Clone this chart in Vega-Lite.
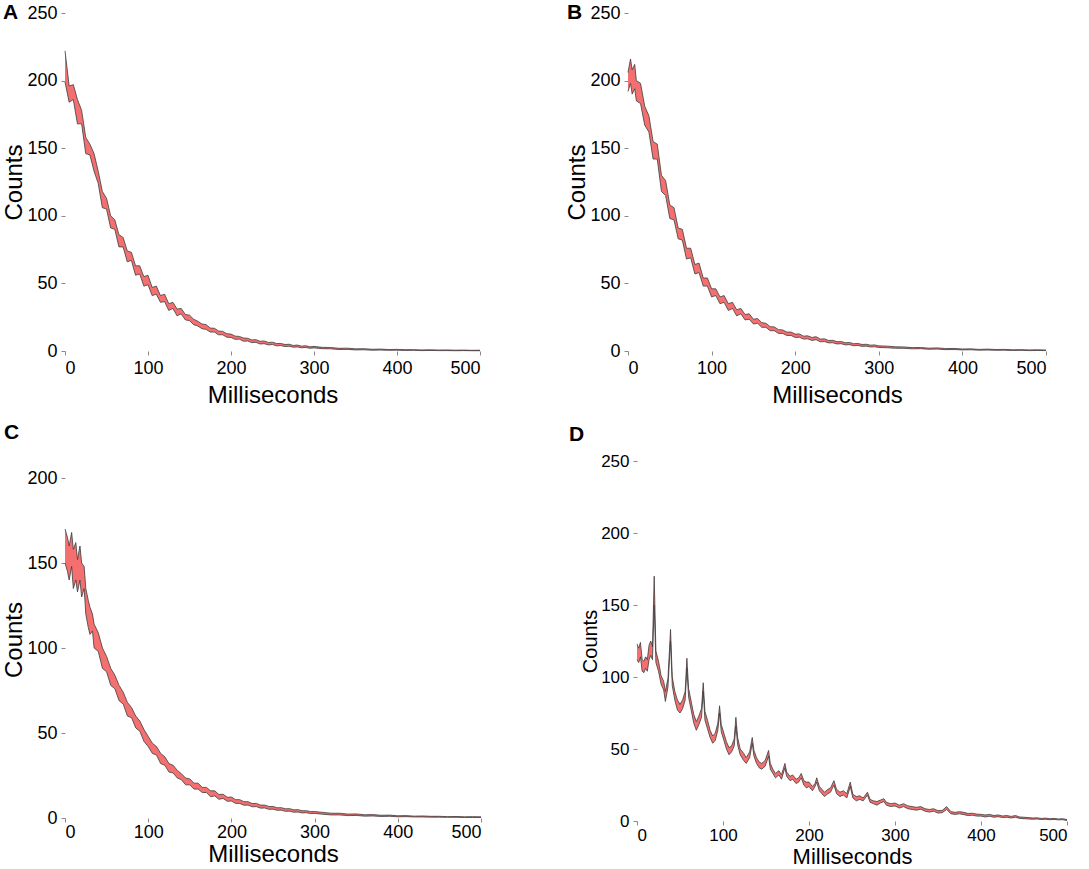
{
  "$schema": "https://vega.github.io/schema/vega-lite/v6.json",
  "padding": {"left": 2, "top": 2, "right": 2, "bottom": 0},
  "config": {
    "view": {"stroke": null},
    "font": "Liberation Sans",
    "axis": {
      "grid": false,
      "domain": false,
      "tickColor": "#8a8a8a",
      "tickSize": 4,
      "labelPadding": 4,
      "labelFontSize": 18,
      "labelColor": "#000",
      "titleFontSize": 24,
      "titleFontWeight": "normal",
      "titleColor": "#000"
    },
    "axisX": {"titlePadding": 6},
    "axisY": {"titlePadding": 0},
    "title": {"fontSize": 21, "fontWeight": "bold", "anchor": "start", "frame": "group", "baseline": "alphabetic", "color": "#000"},
    "area": {"color": "#f47070"},
    "line": {"stroke": "#3c3c3c", "strokeWidth": 0.8}
  },
  "datasets": {
    "A": [
      {"t":0,"lo":199,"hi":222},{"t":5,"lo":184,"hi":196},{"t":10,"lo":186,"hi":197},{"t":15,"lo":168,"hi":186},
      {"t":20,"lo":168,"hi":178},{"t":25,"lo":146,"hi":158},{"t":30,"lo":145,"hi":153},{"t":35,"lo":133,"hi":146},
      {"t":40,"lo":124,"hi":133},{"t":45,"lo":106,"hi":118},{"t":50,"lo":105,"hi":113},{"t":55,"lo":91,"hi":100},
      {"t":60,"lo":90,"hi":97},{"t":65,"lo":77,"hi":86},{"t":70,"lo":77,"hi":84},{"t":75,"lo":66,"hi":74},
      {"t":80,"lo":67,"hi":73},{"t":85,"lo":56,"hi":63},{"t":90,"lo":57,"hi":63},{"t":95,"lo":48,"hi":55},
      {"t":100,"lo":49,"hi":56},{"t":105,"lo":41,"hi":47},{"t":110,"lo":42,"hi":48},{"t":115,"lo":36,"hi":41},
      {"t":120,"lo":36.5,"hi":42},{"t":125,"lo":30,"hi":35},{"t":130,"lo":31.5,"hi":36},{"t":135,"lo":26,"hi":31},
      {"t":140,"lo":27.5,"hi":31.5},{"t":145,"lo":23,"hi":27},{"t":150,"lo":22.5,"hi":26.5},{"t":155,"lo":19.5,"hi":23.5},
      {"t":160,"lo":18.5,"hi":22},{"t":165,"lo":16.5,"hi":20},{"t":170,"lo":16,"hi":19.5},{"t":175,"lo":14,"hi":17},
      {"t":180,"lo":14,"hi":16.8},{"t":185,"lo":12,"hi":14.8},{"t":190,"lo":12,"hi":14.5},{"t":195,"lo":10.2,"hi":12.8},
      {"t":200,"lo":10,"hi":12.5},{"t":205,"lo":8.6,"hi":11},{"t":210,"lo":8.8,"hi":10.8},{"t":215,"lo":7.2,"hi":9.6},
      {"t":220,"lo":7.4,"hi":9.4},{"t":225,"lo":6.2,"hi":8.2},{"t":230,"lo":6.4,"hi":8.4},{"t":235,"lo":5.2,"hi":7.2},
      {"t":240,"lo":5.4,"hi":7.4},{"t":245,"lo":4.5,"hi":6.3},{"t":250,"lo":4.8,"hi":6.5},{"t":255,"lo":3.8,"hi":5.5},
      {"t":260,"lo":4,"hi":5.6},{"t":265,"lo":3.3,"hi":4.8},{"t":270,"lo":3.5,"hi":5},{"t":275,"lo":2.8,"hi":4.1},
      {"t":280,"lo":3,"hi":4.4},{"t":285,"lo":2.4,"hi":3.6},{"t":290,"lo":2.6,"hi":3.9},{"t":295,"lo":2,"hi":3.1},
      {"t":300,"lo":2.3,"hi":3.4},{"t":310,"lo":1.7,"hi":2.7},{"t":320,"lo":1.6,"hi":2.6},{"t":330,"lo":1.1,"hi":2},
      {"t":340,"lo":1.2,"hi":2.1},{"t":350,"lo":0.8,"hi":1.6},{"t":360,"lo":0.9,"hi":1.7},{"t":370,"lo":0.6,"hi":1.3},
      {"t":380,"lo":0.7,"hi":1.4},{"t":390,"lo":0.5,"hi":1.1},{"t":400,"lo":0.6,"hi":1.2},{"t":410,"lo":0.4,"hi":1},
      {"t":420,"lo":0.5,"hi":1},{"t":430,"lo":0.3,"hi":0.8},{"t":440,"lo":0.4,"hi":0.9},{"t":450,"lo":0.3,"hi":0.7},
      {"t":460,"lo":0.3,"hi":0.8},{"t":470,"lo":0.2,"hi":0.6},{"t":480,"lo":0.3,"hi":0.7},{"t":490,"lo":0.2,"hi":0.5},
      {"t":500,"lo":0.2,"hi":0.6}
    ],
    "B": [
      {"t":0,"lo":192,"hi":206},{"t":3,"lo":198,"hi":216},{"t":5,"lo":190,"hi":208},{"t":8,"lo":194,"hi":212},
      {"t":10,"lo":185,"hi":200},{"t":15,"lo":183,"hi":198},{"t":20,"lo":167,"hi":181},{"t":25,"lo":162,"hi":174},
      {"t":30,"lo":142,"hi":155},{"t":35,"lo":142,"hi":153},{"t":40,"lo":118,"hi":130},{"t":45,"lo":115,"hi":126},
      {"t":50,"lo":98,"hi":108},{"t":55,"lo":97,"hi":106},{"t":60,"lo":83,"hi":91},{"t":65,"lo":82,"hi":90},
      {"t":70,"lo":68,"hi":76},{"t":75,"lo":69,"hi":76},{"t":80,"lo":57,"hi":64},{"t":85,"lo":58,"hi":65},
      {"t":90,"lo":48,"hi":54},{"t":95,"lo":48,"hi":54},{"t":100,"lo":40,"hi":46},{"t":105,"lo":41,"hi":46},
      {"t":110,"lo":35,"hi":40},{"t":115,"lo":36,"hi":41},{"t":120,"lo":30,"hi":35},{"t":125,"lo":31.5,"hi":36},
      {"t":130,"lo":26,"hi":30.5},{"t":135,"lo":27.5,"hi":31.5},{"t":140,"lo":23,"hi":27},{"t":145,"lo":23.5,"hi":27.5},
      {"t":150,"lo":20,"hi":23.5},{"t":155,"lo":20.5,"hi":24},{"t":160,"lo":17.5,"hi":21},{"t":165,"lo":17.5,"hi":20.5},
      {"t":170,"lo":15,"hi":18},{"t":175,"lo":15,"hi":17.8},{"t":180,"lo":13,"hi":15.8},{"t":185,"lo":13,"hi":15.6},
      {"t":190,"lo":11.5,"hi":14},{"t":195,"lo":11.5,"hi":14},{"t":200,"lo":10,"hi":12.5},{"t":205,"lo":10.2,"hi":12.6},
      {"t":210,"lo":8.8,"hi":11},{"t":215,"lo":9,"hi":11.2},{"t":220,"lo":7.8,"hi":10},{"t":225,"lo":8.4,"hi":10.6},
      {"t":230,"lo":6.8,"hi":8.8},{"t":235,"lo":7,"hi":9},{"t":240,"lo":6,"hi":7.8},{"t":245,"lo":6.1,"hi":7.9},
      {"t":250,"lo":5.2,"hi":6.9},{"t":255,"lo":5.4,"hi":7},{"t":260,"lo":4.5,"hi":6.1},{"t":265,"lo":4.7,"hi":6.3},
      {"t":270,"lo":3.9,"hi":5.4},{"t":275,"lo":4.1,"hi":5.6},{"t":280,"lo":3.4,"hi":4.8},{"t":285,"lo":3.6,"hi":5},
      {"t":290,"lo":3,"hi":4.3},{"t":295,"lo":3.1,"hi":4.5},{"t":300,"lo":2.6,"hi":3.8},{"t":310,"lo":2.4,"hi":3.6},
      {"t":320,"lo":2,"hi":3.1},{"t":330,"lo":2,"hi":3},{"t":340,"lo":1.6,"hi":2.5},{"t":350,"lo":1.7,"hi":2.6},
      {"t":360,"lo":1.3,"hi":2.1},{"t":370,"lo":1.4,"hi":2.3},{"t":380,"lo":1,"hi":1.8},{"t":390,"lo":1.1,"hi":1.9},
      {"t":400,"lo":0.8,"hi":1.5},{"t":410,"lo":0.9,"hi":1.6},{"t":420,"lo":0.6,"hi":1.2},{"t":430,"lo":0.7,"hi":1.4},
      {"t":440,"lo":0.5,"hi":1.1},{"t":450,"lo":0.6,"hi":1.2},{"t":460,"lo":0.4,"hi":0.9},{"t":470,"lo":0.5,"hi":1},
      {"t":480,"lo":0.3,"hi":0.8},{"t":490,"lo":0.4,"hi":0.9},{"t":500,"lo":0.3,"hi":0.7}
    ],
    "C": [
      {"t":0,"lo":150,"hi":170},{"t":3,"lo":145,"hi":165},{"t":5,"lo":140,"hi":160},{"t":8,"lo":148,"hi":168},
      {"t":10,"lo":135,"hi":158},{"t":13,"lo":140,"hi":162},{"t":15,"lo":133,"hi":152},{"t":18,"lo":140,"hi":160},
      {"t":20,"lo":130,"hi":150},{"t":23,"lo":135,"hi":148},{"t":25,"lo":120,"hi":135},{"t":28,"lo":112,"hi":128},
      {"t":30,"lo":108,"hi":124},{"t":33,"lo":110,"hi":120},{"t":35,"lo":100,"hi":114},{"t":40,"lo":98,"hi":109},
      {"t":45,"lo":88,"hi":100},{"t":50,"lo":86,"hi":95},{"t":55,"lo":78,"hi":88},{"t":60,"lo":76,"hi":84},
      {"t":65,"lo":69,"hi":78},{"t":70,"lo":67,"hi":74},{"t":75,"lo":60,"hi":68},{"t":80,"lo":59,"hi":65},
      {"t":85,"lo":53,"hi":60},{"t":90,"lo":51,"hi":57},{"t":95,"lo":45,"hi":52},{"t":100,"lo":42,"hi":48},
      {"t":105,"lo":38,"hi":44},{"t":110,"lo":37,"hi":42},{"t":115,"lo":32,"hi":38},{"t":120,"lo":31,"hi":36},
      {"t":125,"lo":27,"hi":32},{"t":130,"lo":26.5,"hi":31},{"t":135,"lo":23.5,"hi":28},{"t":140,"lo":22.5,"hi":26},
      {"t":145,"lo":19.5,"hi":23.5},{"t":150,"lo":19.5,"hi":23},{"t":155,"lo":17,"hi":20.5},{"t":160,"lo":17,"hi":20.5},
      {"t":165,"lo":15,"hi":18},{"t":170,"lo":15,"hi":18},{"t":175,"lo":12.5,"hi":16},{"t":180,"lo":13,"hi":16},
      {"t":185,"lo":11,"hi":13.8},{"t":190,"lo":11.5,"hi":14},{"t":195,"lo":9.8,"hi":12.2},{"t":200,"lo":10,"hi":12.3},
      {"t":205,"lo":8.6,"hi":10.8},{"t":210,"lo":8.6,"hi":10.8},{"t":215,"lo":7.5,"hi":9.6},{"t":220,"lo":7.6,"hi":9.6},
      {"t":225,"lo":6.6,"hi":8.5},{"t":230,"lo":6.7,"hi":8.6},{"t":235,"lo":5.8,"hi":7.6},{"t":240,"lo":5.9,"hi":7.6},
      {"t":245,"lo":5.1,"hi":6.8},{"t":250,"lo":5.2,"hi":6.8},{"t":255,"lo":4.5,"hi":6},{"t":260,"lo":4.6,"hi":6.1},
      {"t":265,"lo":3.9,"hi":5.4},{"t":270,"lo":4,"hi":5.5},{"t":275,"lo":3.4,"hi":4.8},{"t":280,"lo":3.5,"hi":4.9},
      {"t":285,"lo":3,"hi":4.3},{"t":290,"lo":3.1,"hi":4.3},{"t":295,"lo":2.6,"hi":3.8},{"t":300,"lo":2.7,"hi":3.8},
      {"t":310,"lo":2.2,"hi":3.3},{"t":320,"lo":1.8,"hi":2.8},{"t":330,"lo":1.8,"hi":2.8},{"t":340,"lo":1.4,"hi":2.3},
      {"t":350,"lo":1.5,"hi":2.4},{"t":360,"lo":1.1,"hi":1.9},{"t":370,"lo":1.2,"hi":2},{"t":380,"lo":0.9,"hi":1.6},
      {"t":390,"lo":1,"hi":1.7},{"t":400,"lo":0.7,"hi":1.3},{"t":410,"lo":0.8,"hi":1.4},{"t":420,"lo":0.6,"hi":1.1},
      {"t":430,"lo":0.6,"hi":1.2},{"t":440,"lo":0.5,"hi":1},{"t":450,"lo":0.5,"hi":1},{"t":460,"lo":0.4,"hi":0.8},
      {"t":470,"lo":0.4,"hi":0.9},{"t":480,"lo":0.3,"hi":0.7},{"t":490,"lo":0.3,"hi":0.8},{"t":500,"lo":0.3,"hi":0.7}
    ],
    "D": [
      {"t":0,"lo":112,"hi":123},{"t":2,"lo":110,"hi":120},{"t":4,"lo":114,"hi":124},{"t":6,"lo":104,"hi":112},
      {"t":8,"lo":103,"hi":111},{"t":10,"lo":106,"hi":114},{"t":12,"lo":104,"hi":112},{"t":14,"lo":112,"hi":122},
      {"t":16,"lo":115,"hi":125},{"t":18,"lo":112,"hi":121},{"t":20,"lo":150,"hi":170},{"t":22,"lo":110,"hi":118},
      {"t":25,"lo":104,"hi":111},{"t":28,"lo":95,"hi":101},{"t":31,"lo":91,"hi":97},{"t":33,"lo":83,"hi":90},
      {"t":36,"lo":93,"hi":99},{"t":39,"lo":125,"hi":133},{"t":41,"lo":94,"hi":100},{"t":44,"lo":84,"hi":90},
      {"t":47,"lo":77,"hi":84},{"t":50,"lo":75,"hi":81},{"t":53,"lo":78,"hi":84},{"t":56,"lo":84,"hi":90},
      {"t":58,"lo":106,"hi":113},{"t":60,"lo":86,"hi":92},{"t":63,"lo":77,"hi":83},{"t":66,"lo":68,"hi":74},
      {"t":69,"lo":63,"hi":69},{"t":72,"lo":67,"hi":73},{"t":75,"lo":72,"hi":78},{"t":77,"lo":90,"hi":96},
      {"t":79,"lo":70,"hi":76},{"t":82,"lo":64,"hi":70},{"t":85,"lo":58,"hi":63},{"t":88,"lo":54,"hi":59},
      {"t":91,"lo":56,"hi":61},{"t":94,"lo":63,"hi":68},{"t":96,"lo":75,"hi":80},{"t":98,"lo":62,"hi":67},
      {"t":101,"lo":56,"hi":61},{"t":104,"lo":50,"hi":55},{"t":107,"lo":46,"hi":51},{"t":110,"lo":48,"hi":52},
      {"t":113,"lo":52,"hi":57},{"t":115,"lo":66,"hi":72},{"t":117,"lo":53,"hi":58},{"t":120,"lo":46,"hi":50},
      {"t":124,"lo":42,"hi":47},{"t":127,"lo":40,"hi":44},{"t":131,"lo":44,"hi":48},{"t":134,"lo":54,"hi":58},
      {"t":136,"lo":45,"hi":49},{"t":139,"lo":40,"hi":44},{"t":142,"lo":37,"hi":41},{"t":145,"lo":36,"hi":40},
      {"t":149,"lo":38,"hi":42},{"t":153,"lo":45,"hi":49},{"t":155,"lo":36,"hi":40},{"t":158,"lo":33,"hi":36},
      {"t":161,"lo":30,"hi":33},{"t":165,"lo":32,"hi":35},{"t":168,"lo":29,"hi":32},{"t":172,"lo":37,"hi":40},
      {"t":174,"lo":31,"hi":34},{"t":178,"lo":28,"hi":31},{"t":181,"lo":29,"hi":32},{"t":185,"lo":26,"hi":29},
      {"t":188,"lo":27,"hi":30},{"t":191,"lo":30,"hi":33},{"t":194,"lo":25,"hi":28},{"t":197,"lo":23,"hi":27},
      {"t":200,"lo":24,"hi":27},{"t":204,"lo":21,"hi":24},{"t":207,"lo":24,"hi":26},{"t":209,"lo":27,"hi":30},
      {"t":212,"lo":21,"hi":24},{"t":215,"lo":19,"hi":22},{"t":218,"lo":17,"hi":20},{"t":222,"lo":19,"hi":22},
      {"t":225,"lo":20,"hi":23},{"t":229,"lo":25,"hi":28},{"t":232,"lo":19,"hi":22},{"t":236,"lo":17,"hi":20},
      {"t":240,"lo":18,"hi":21},{"t":244,"lo":16,"hi":19},{"t":248,"lo":24,"hi":27},{"t":251,"lo":16,"hi":18.5},
      {"t":255,"lo":14,"hi":17},{"t":259,"lo":15,"hi":17.5},{"t":263,"lo":14,"hi":16},{"t":268,"lo":18,"hi":20},
      {"t":271,"lo":13,"hi":15},{"t":275,"lo":12,"hi":14},{"t":279,"lo":11,"hi":13.5},{"t":283,"lo":12.5,"hi":14.5},
      {"t":287,"lo":13.5,"hi":15.5},{"t":290,"lo":11,"hi":13},{"t":295,"lo":10,"hi":12},{"t":300,"lo":10.5,"hi":12.5},
      {"t":305,"lo":9,"hi":11},{"t":310,"lo":10,"hi":12},{"t":315,"lo":8.5,"hi":10.5},{"t":320,"lo":8,"hi":10},
      {"t":325,"lo":7.5,"hi":9.5},{"t":330,"lo":8.2,"hi":10},{"t":335,"lo":6.8,"hi":8.5},{"t":340,"lo":6.2,"hi":8},
      {"t":345,"lo":6.8,"hi":8.5},{"t":350,"lo":5.5,"hi":7.2},{"t":355,"lo":5.8,"hi":7.4},{"t":360,"lo":8,"hi":10},
      {"t":365,"lo":5,"hi":6.5},{"t":370,"lo":4.6,"hi":6},{"t":375,"lo":5,"hi":6.5},{"t":380,"lo":4.4,"hi":6},
      {"t":385,"lo":3.8,"hi":5.2},{"t":390,"lo":4,"hi":5.4},{"t":395,"lo":3.4,"hi":4.8},{"t":400,"lo":3.4,"hi":4.6},
      {"t":405,"lo":2.8,"hi":4.2},{"t":410,"lo":3.3,"hi":4.6},{"t":415,"lo":2.6,"hi":3.8},{"t":420,"lo":3,"hi":4.2},
      {"t":425,"lo":2.4,"hi":3.5},{"t":430,"lo":2.6,"hi":3.8},{"t":435,"lo":2.1,"hi":3.2},{"t":440,"lo":2.6,"hi":3.8},
      {"t":445,"lo":1.8,"hi":2.8},{"t":450,"lo":1.6,"hi":2.6},{"t":455,"lo":1.4,"hi":2.4},{"t":460,"lo":1.2,"hi":2.1},
      {"t":465,"lo":1.4,"hi":2.2},{"t":470,"lo":1,"hi":1.8},{"t":475,"lo":1.2,"hi":2},{"t":480,"lo":0.9,"hi":1.6},
      {"t":485,"lo":1.1,"hi":1.8},{"t":490,"lo":0.8,"hi":1.4},{"t":495,"lo":0.9,"hi":1.6},{"t":500,"lo":0.3,"hi":1}
    ]
  },
  "spacing": 15,
  "vconcat": [
    {
      "spacing": 83,
      "hconcat": [
        {
          "title": {"text": "A", "dx": -62, "offset": -19},
          "width": 415, "height": 338,
          "data": {"name": "A"},
          "encoding": {
            "x": {"field": "t", "type": "quantitative", "title": "Milliseconds", "scale": {"domain": [0, 500], "nice": false}, "axis": {"values": [0, 100, 200, 300, 400, 500]}},
            "y": {"field": "lo", "type": "quantitative", "title": "Counts", "scale": {"domain": [0, 250], "nice": false}, "axis": {"values": [0, 50, 100, 150, 200, 250]}}
          },
          "layer": [
            {"mark": "area", "encoding": {"y2": {"field": "hi"}}},
            {"mark": "line", "encoding": {}},
            {"mark": "line", "encoding": {"y": {"field": "hi", "type": "quantitative"}}}
          ]
        },
        {
          "title": {"text": "B", "dx": -61, "offset": -19},
          "width": 418, "height": 338,
          "data": {"name": "B"},
          "encoding": {
            "x": {"field": "t", "type": "quantitative", "title": "Milliseconds", "scale": {"domain": [0, 500], "nice": false}, "axis": {"values": [0, 100, 200, 300, 400, 500]}},
            "y": {"field": "lo", "type": "quantitative", "title": "Counts", "scale": {"domain": [0, 250], "nice": false}, "axis": {"values": [0, 50, 100, 150, 200, 250]}}
          },
          "layer": [
            {"mark": "area", "encoding": {"y2": {"field": "hi"}}},
            {"mark": "line", "encoding": {}},
            {"mark": "line", "encoding": {"y": {"field": "hi", "type": "quantitative"}}}
          ]
        }
      ]
    },
    {
      "spacing": 86,
      "hconcat": [
        {
          "title": {"text": "C", "dx": -61, "offset": 18},
          "width": 416, "height": 357,
          "data": {"name": "C"},
          "encoding": {
            "x": {"field": "t", "type": "quantitative", "title": "Milliseconds", "scale": {"domain": [0, 500], "nice": false}, "axis": {"values": [0, 100, 200, 300, 400, 500], "labelPadding": 1, "titlePadding": 1}},
            "y": {"field": "lo", "type": "quantitative", "title": "Counts", "scale": {"domain": [0, 210], "nice": false}, "axis": {"values": [0, 50, 100, 150, 200]}}
          },
          "layer": [
            {"mark": "area", "encoding": {"y2": {"field": "hi"}}},
            {"mark": "line", "encoding": {}},
            {"mark": "line", "encoding": {"y": {"field": "hi", "type": "quantitative"}}}
          ]
        },
        {
          "title": {"text": "D", "dx": -68, "offset": 7},
          "width": 430, "height": 360,
          "data": {"name": "D"},
          "encoding": {
            "x": {"field": "t", "type": "quantitative", "title": "Milliseconds", "scale": {"domain": [0, 500], "nice": false}, "axis": {"values": [0, 100, 200, 300, 400, 500], "titleFontSize": 22, "labelFontSize": 17, "labelPadding": 2, "titlePadding": 3}},
            "y": {"field": "lo", "type": "quantitative", "title": "Counts", "scale": {"domain": [0, 250], "nice": false}, "axis": {"values": [0, 50, 100, 150, 200, 250], "titleFontSize": 20, "labelFontSize": 17}}
          },
          "layer": [
            {"mark": "area", "encoding": {"y2": {"field": "hi"}}},
            {"mark": "line", "encoding": {}},
            {"mark": "line", "encoding": {"y": {"field": "hi", "type": "quantitative"}}}
          ]
        }
      ]
    }
  ]
}
